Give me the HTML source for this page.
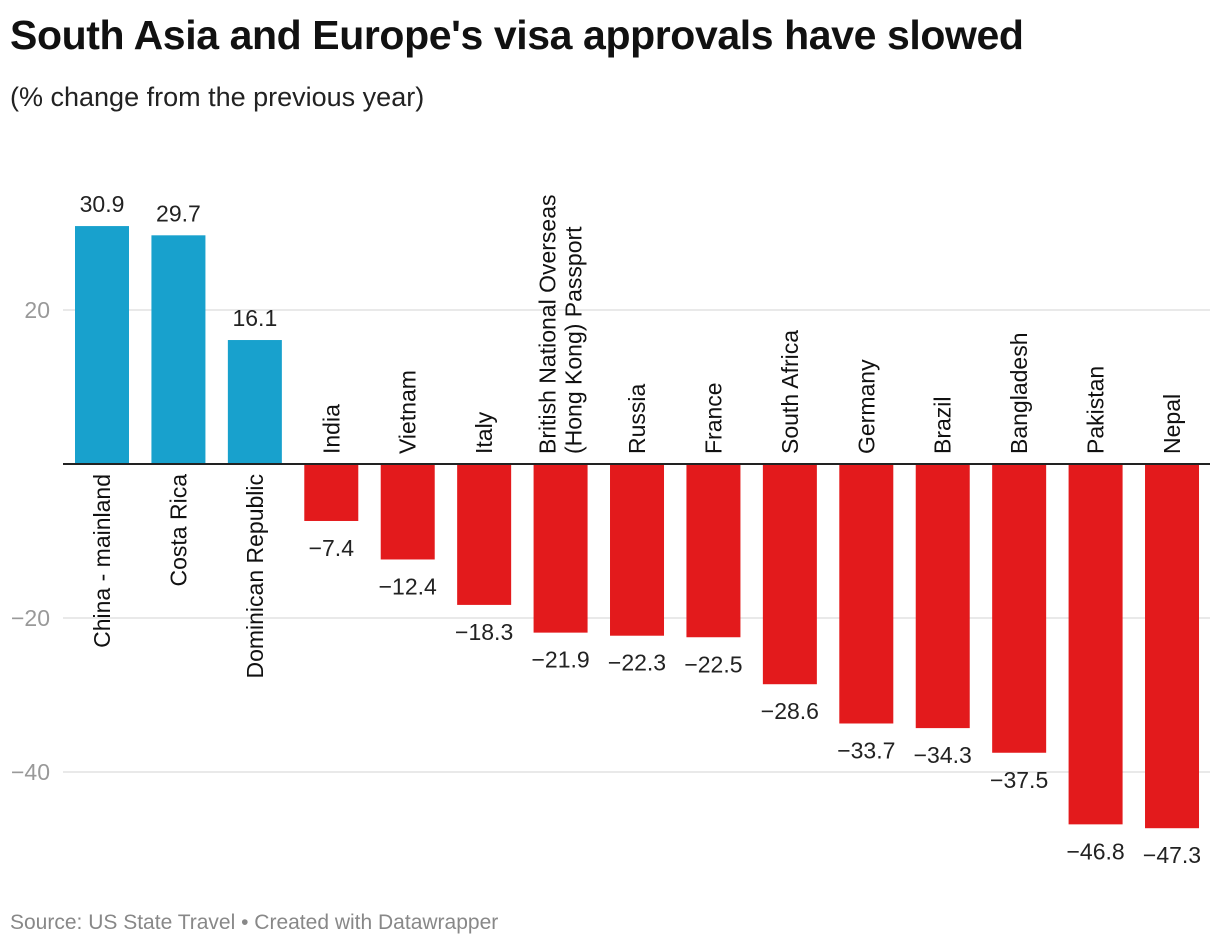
<!DOCTYPE html>
<html><head><meta charset="utf-8"><style>
body{margin:0;background:#fff;width:1220px;height:950px;overflow:hidden;font-family:"Liberation Sans",Roboto,sans-serif}
h1{position:absolute;left:10px;top:12px;margin:0;font-size:41px;font-weight:bold;color:#111;letter-spacing:-0.4px}
.sub{position:absolute;left:10px;top:82px;font-size:27px;color:#222}
.src{position:absolute;left:10px;top:911px;font-size:21px;color:#888}
svg{position:absolute;left:0;top:0}
</style></head><body>
<h1>South Asia and Europe's visa approvals have slowed</h1>
<div class="sub">(% change from the previous year)</div>
<svg id="c" width="1220" height="950"></svg>
<div class="src">Source: US State Travel • Created with Datawrapper</div>
<script>
const categories=["China - mainland","Costa Rica","Dominican Republic","India","Vietnam","Italy","British National Overseas|(Hong Kong) Passport","Russia","France","South Africa","Germany","Brazil","Bangladesh","Pakistan","Nepal"];
const values=[30.9,29.7,16.1,-7.4,-12.4,-18.3,-21.9,-22.3,-22.5,-28.6,-33.7,-34.3,-37.5,-46.8,-47.3];
const ticks=[20,-20,-40];
const NS="http://www.w3.org/2000/svg",svg=document.getElementById('c');
const y0=464,ppu=7.7;
const y=v=>y0-v*ppu;
const x=i=>75+i*76.43;
const bw=54;
function mk(t,a){const e=document.createElementNS(NS,t);for(const k in a)e.setAttribute(k,a[k]);svg.appendChild(e);return e;}
ticks.forEach(t=>{
 const l=mk('line',{x1:63,x2:1210,y1:y(t),y2:y(t),stroke:'#e2e2e2','stroke-width':1.5});
 
 
 const tx=mk('text',{x:50,y:y(t)+8,'text-anchor':'end','font-size':23,fill:'#999'});
 tx.textContent=(t<0?'\u2212':'')+Math.abs(t);
 
 
});
values.forEach((v,i)=>{
 const pos=v>=0;
 const r=mk('rect',{x:x(i),y:pos?y(v):y0,width:bw,height:Math.abs(v)*ppu,fill:pos?'#18a1cd':'#e31a1c'});
 
 
 const cx=x(i)+bw/2;
 const t=mk('text',{x:cx,y:pos?y(v)-14:y(v)+35,'text-anchor':'middle','font-size':23,fill:'#222'});
 t.textContent=(v<0?'\u2212':'')+Math.abs(v).toFixed(1);
 
 
 const lines=categories[i].split('|');
 const g=mk('text',{'font-size':23,fill:'#111','text-anchor':pos?'end':'start',
   transform:`translate(${cx},${pos?y0+10:y0-10}) rotate(-90)`});
 
 
 lines.forEach((s,j)=>{const ts=document.createElementNS(NS,'tspan');ts.setAttribute('x',0);
  ts.setAttribute('y',(j-(lines.length-1)/2)*26+8);ts.textContent=s;g.appendChild(ts);});
});
const ax=mk('line',{x1:63,x2:1210,y1:y0,y2:y0,stroke:'#222','stroke-width':2});


</script>
</body></html>
